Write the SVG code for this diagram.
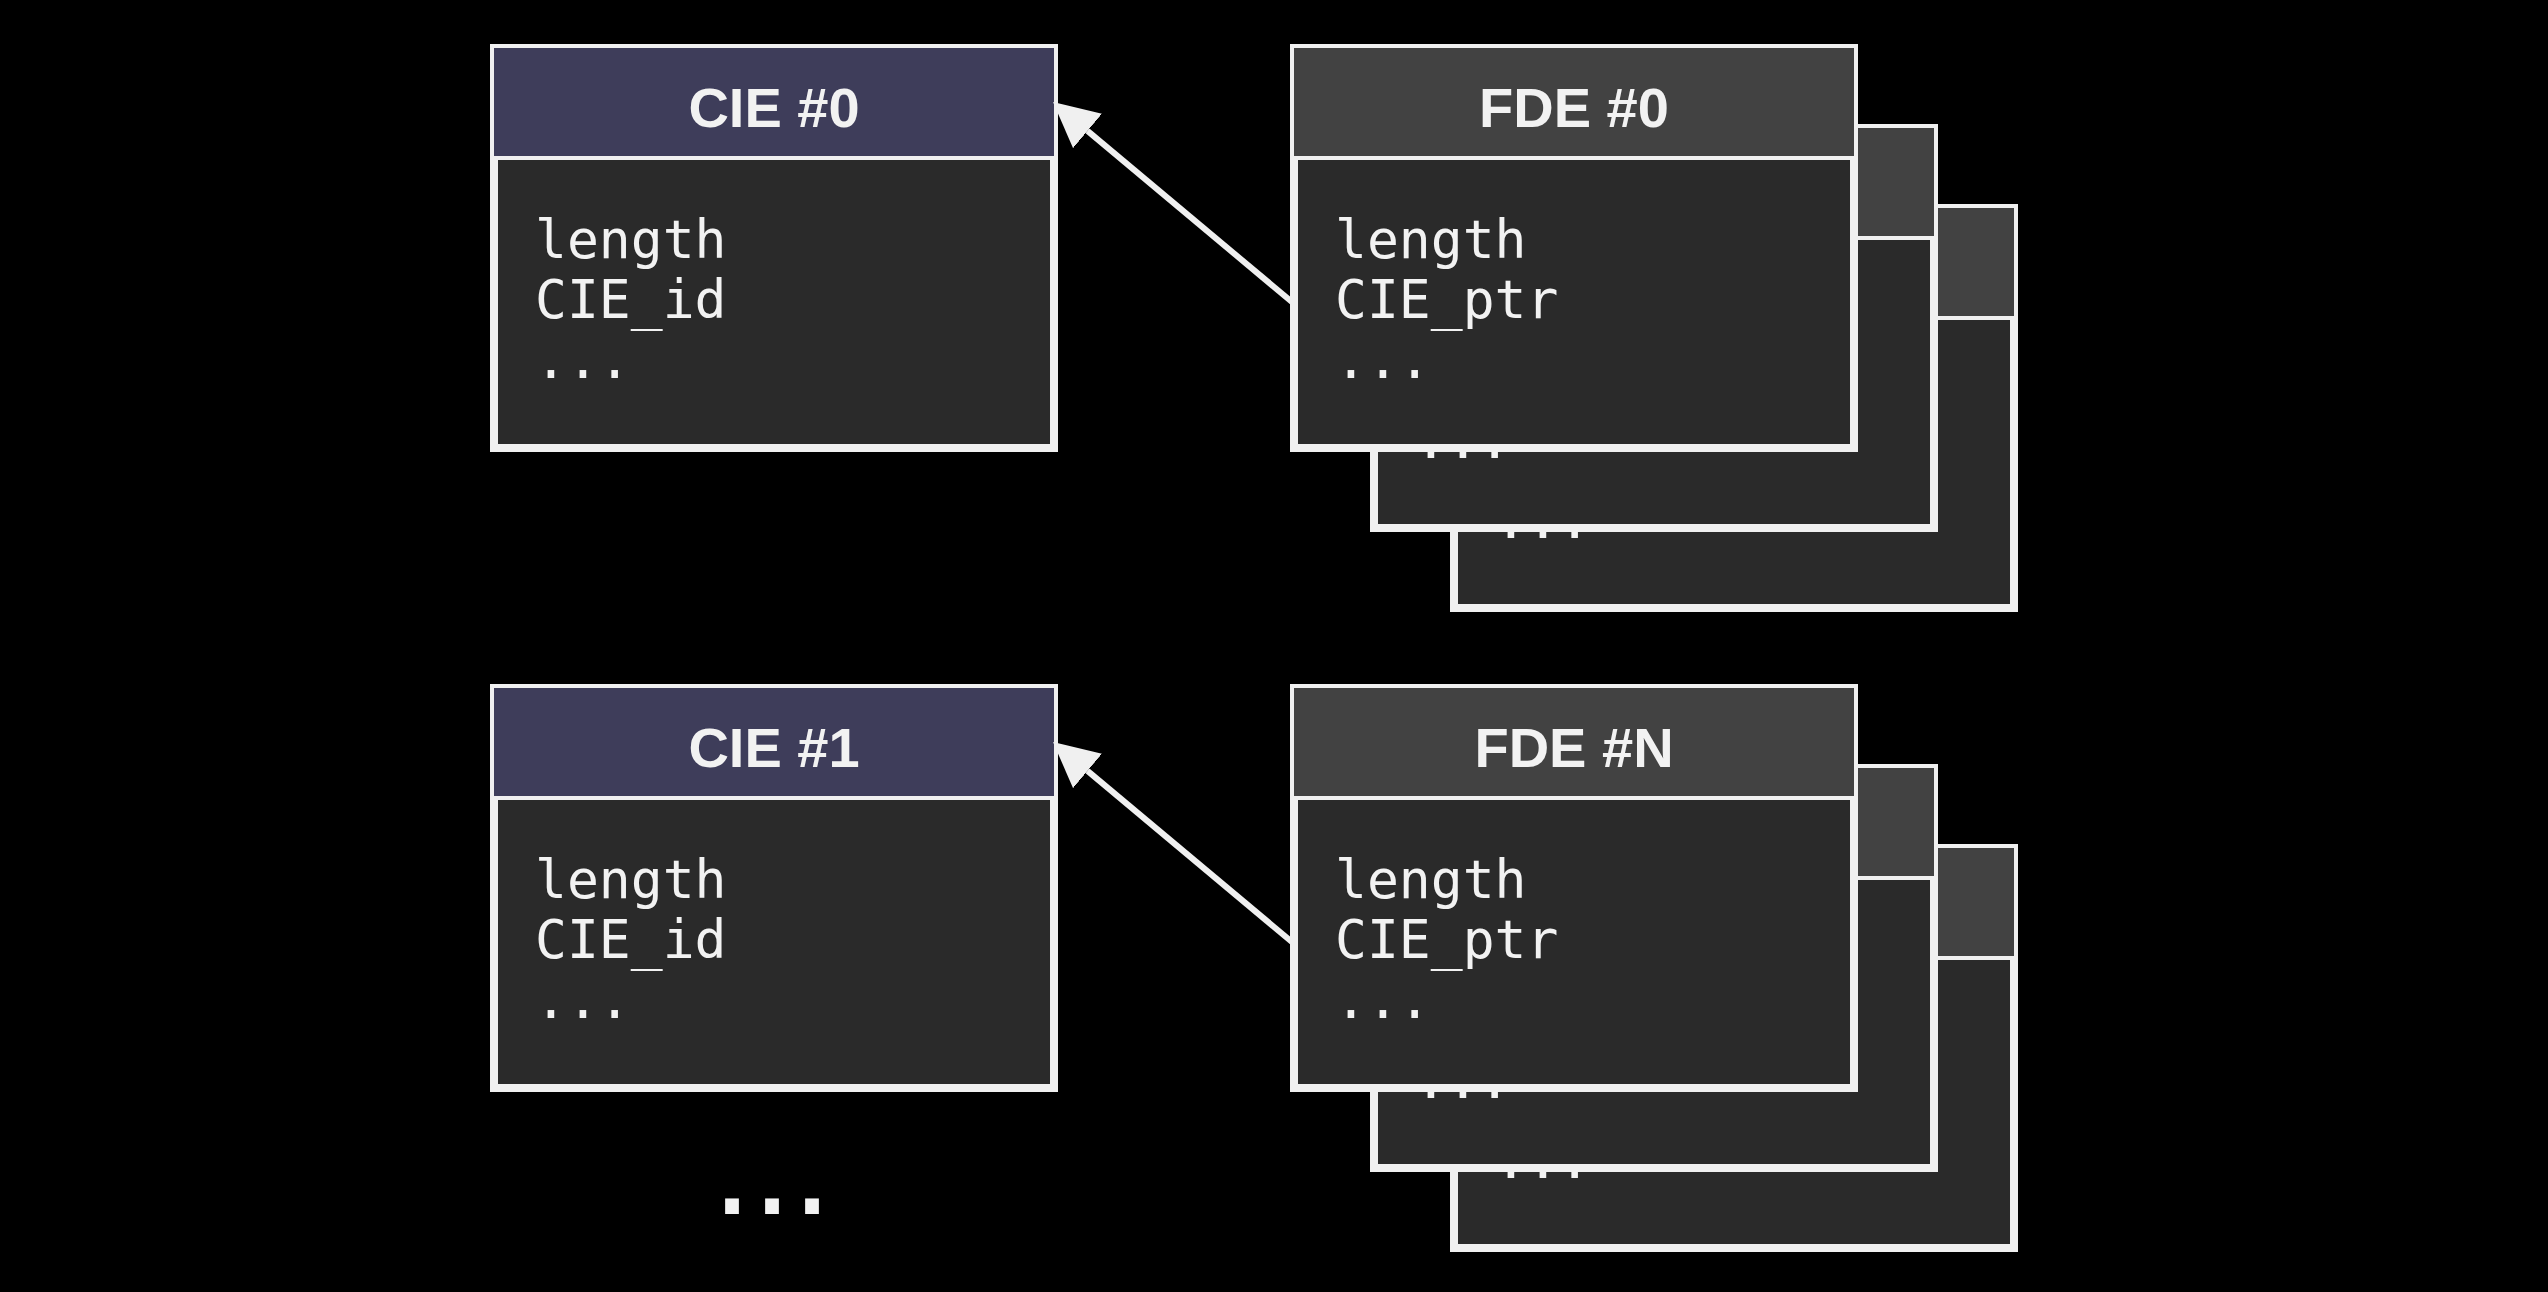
<svg xmlns="http://www.w3.org/2000/svg" width="2548" height="1292" viewBox="0 0 2548 1292">
  <style>
    .body { fill: #2a2a2a; stroke: #f0f0f0; stroke-width: 8; }
    .hdr-cie { fill: #3e3d5a; stroke: #f0f0f0; stroke-width: 4; }
    .hdr-fde { fill: #424242; stroke: #f0f0f0; stroke-width: 4; }
    .title { font-family: "Liberation Sans", Arial, sans-serif; font-weight: bold; font-size: 56px; fill: #f2f2f2; text-anchor: middle; }
    .mono { font-family: "DejaVu Sans Mono", "Liberation Mono", monospace; font-size: 53px; fill: #f2f2f2; }
    .edge { stroke: #f0f0f0; stroke-width: 6; fill: none; }
    .big-dots { font-family: "Liberation Sans", Arial, sans-serif; font-size: 144px; fill: #f2f2f2; text-anchor: middle; }
  </style>
  <defs>
    <marker id="arrow" markerUnits="userSpaceOnUse" markerWidth="46" markerHeight="46" refX="0" refY="22.5" orient="auto" viewBox="0 0 46 46">
      <path d="M0,0 L45,22.5 L0,45 Z" fill="#f0f0f0"/>
    </marker>
  </defs>
  <rect width="2548" height="1292" fill="#000000"/>

  <!-- CIE #0 -->
  <g id="cie0" transform="translate(490,44)">
    <rect class="body" x="4" y="112" width="560" height="292"/>
    <rect class="hdr-cie" x="2" y="2" width="564" height="112"/>
    <text class="title" x="284" y="82.7">CIE #0</text>
    <text class="mono" x="45" y="214">length</text>
    <text class="mono" x="45" y="274">CIE_id</text>
    <text class="mono" x="45" y="333.5">...</text>
  </g>

  <!-- FDE #0 stack -->
  <g id="fde0">
    <g id="fde0-back2" transform="translate(1450,204)">
      <rect class="body" x="4" y="112" width="560" height="292"/>
      <rect class="hdr-fde" x="2" y="2" width="564" height="112"/>
      <text class="mono" x="45" y="333.5">...</text>
    </g>
    <g id="fde0-back1" transform="translate(1370,124)">
      <rect class="body" x="4" y="112" width="560" height="292"/>
      <rect class="hdr-fde" x="2" y="2" width="564" height="112"/>
      <text class="mono" x="45" y="333.5">...</text>
    </g>
    <g id="fde0-front" transform="translate(1290,44)">
      <rect class="body" x="4" y="112" width="560" height="292"/>
      <rect class="hdr-fde" x="2" y="2" width="564" height="112"/>
      <text class="title" x="284" y="82.7">FDE #0</text>
      <text class="mono" x="45" y="214">length</text>
      <text class="mono" x="45" y="274">CIE_ptr</text>
      <text class="mono" x="45" y="333.5">...</text>
    </g>
  </g>

  <!-- CIE #1 -->
  <g id="cie1" transform="translate(490,684)">
    <rect class="body" x="4" y="112" width="560" height="292"/>
    <rect class="hdr-cie" x="2" y="2" width="564" height="112"/>
    <text class="title" x="284" y="82.7">CIE #1</text>
    <text class="mono" x="45" y="214">length</text>
    <text class="mono" x="45" y="274">CIE_id</text>
    <text class="mono" x="45" y="333.5">...</text>
  </g>

  <!-- FDE #N stack -->
  <g id="fdeN">
    <g id="fdeN-back2" transform="translate(1450,844)">
      <rect class="body" x="4" y="112" width="560" height="292"/>
      <rect class="hdr-fde" x="2" y="2" width="564" height="112"/>
      <text class="mono" x="45" y="333.5">...</text>
    </g>
    <g id="fdeN-back1" transform="translate(1370,764)">
      <rect class="body" x="4" y="112" width="560" height="292"/>
      <rect class="hdr-fde" x="2" y="2" width="564" height="112"/>
      <text class="mono" x="45" y="333.5">...</text>
    </g>
    <g id="fdeN-front" transform="translate(1290,684)">
      <rect class="body" x="4" y="112" width="560" height="292"/>
      <rect class="hdr-fde" x="2" y="2" width="564" height="112"/>
      <text class="title" x="284" y="82.7">FDE #N</text>
      <text class="mono" x="45" y="214">length</text>
      <text class="mono" x="45" y="274">CIE_ptr</text>
      <text class="mono" x="45" y="333.5">...</text>
    </g>
  </g>

  <!-- more CIEs -->
  <g id="more">
    <text class="big-dots" x="772" y="1213.5">...</text>
  </g>

  <!-- connectors -->
  <g id="connectors">
    <line class="edge" x1="1292" y1="302" x2="1087.5" y2="130.9" marker-end="url(#arrow)"/>
    <line class="edge" x1="1292" y1="942" x2="1087.5" y2="770.9" marker-end="url(#arrow)"/>
  </g>
</svg>
